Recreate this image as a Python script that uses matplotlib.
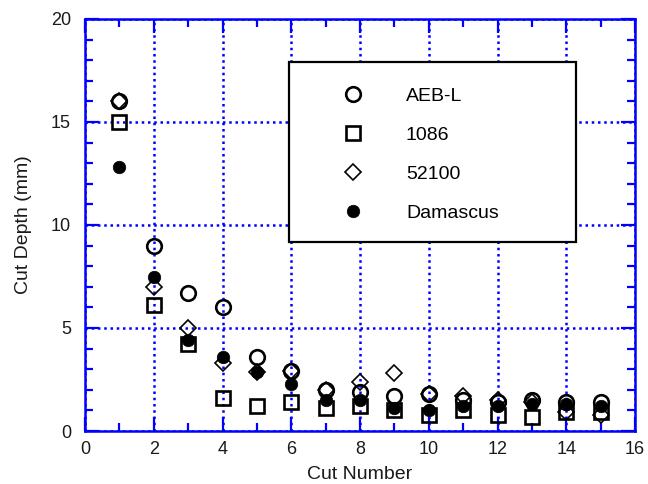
import matplotlib
matplotlib.use("Agg")
import matplotlib.pyplot as plt
from matplotlib.patches import Rectangle
from matplotlib.ticker import MultipleLocator

plt.rcParams['font.family'] = ['Liberation Sans', 'DejaVu Sans']

cuts = [1, 2, 3, 4, 5, 6, 7, 8, 9, 10, 11, 12, 13, 14, 15]
aebl = [16.0, 9.0, 6.7, 6.0, 3.6, 2.9, 2.0, 1.9, 1.7, 1.8, 1.5, 1.4, 1.5, 1.4, 1.4]
s1086 = [15.0, 6.1, 4.2, 1.6, 1.2, 1.4, 1.1, 1.2, 1.0, 0.8, 1.0, 0.8, 0.7, 0.9, 0.9]
s52100 = [16.0, 7.0, 5.0, 3.3, 2.85, 2.9, 2.0, 2.4, 2.8, 1.8, 1.7, 1.5, 1.4, 0.9, 0.8]
damascus = [12.8, 7.5, 4.4, 3.6, 2.85, 2.3, 1.5, 1.5, 1.1, 1.0, 1.2, 1.2, 1.3, 1.3, 1.2]

blue = '#0000ff'

fig = plt.figure(figsize=(6.48, 4.84), dpi=100)
ax = fig.add_axes([85/648, 1 - 431/484, 550/648, 412/484])

ax.set_xlim(0, 16)
ax.set_ylim(0, 20)
ax.xaxis.set_major_locator(MultipleLocator(2))
ax.xaxis.set_minor_locator(MultipleLocator(1))
ax.yaxis.set_major_locator(MultipleLocator(5))
ax.yaxis.set_minor_locator(MultipleLocator(1))

ax.grid(True, which='major', color=blue, linestyle=(0, (1, 1.5)), linewidth=1.8, zorder=0)
ax.set_axisbelow(True)

for sp in ax.spines.values():
    sp.set_color(blue)
    sp.set_linewidth(1.8)

ax.tick_params(which='both', direction='in', top=True, right=True, color=blue,
               width=1.6, labelsize=13, labelcolor='#1a1a1a')
ax.tick_params(which='major', length=10, pad=7)
ax.tick_params(which='minor', length=5.5)
ax.tick_params(axis='y', which='major', pad=10)

h1, = ax.plot(cuts, aebl, linestyle='none', marker='o', ms=10.5, mfc='none',
              mec='black', mew=1.9, label='AEB-L', zorder=3)
h2, = ax.plot(cuts, s1086, linestyle='none', marker='s', ms=10.5, mfc='none',
              mec='black', mew=1.9, label='1086', zorder=3)
h3, = ax.plot(cuts, s52100, linestyle='none', marker='D', ms=7.8, mfc='none',
              mec='black', mew=1.2, label='52100', zorder=3)
h4, = ax.plot(cuts, damascus, linestyle='none', marker='o', ms=9, mfc='black',
              mec='black', mew=0.5, label='Damascus', zorder=4)

ax.set_xlabel('Cut Number', fontsize=14, color='#1a1a1a', labelpad=6)
ax.set_ylabel('Cut Depth (mm)', fontsize=14, color='#1a1a1a', labelpad=14)

# legend box
x0, x1 = (289 - 85) / 550, (576 - 85) / 550
y1, y0 = (431 - 62) / 412, (431 - 242) / 412
rect = Rectangle((x0, y0), x1 - x0, y1 - y0, transform=ax.transAxes,
                 facecolor='white', edgecolor='black', linewidth=1.6, zorder=5)
ax.add_patch(rect)
leg = ax.legend(handles=[h1, h2, h3, h4], loc='center left',
                bbox_to_anchor=((334 - 85) / 550, (431 - 154.5) / 412), frameon=False,
                fontsize=14, labelspacing=1.1, handletextpad=2.2,
                handlelength=1.0, borderpad=0)
leg.set_zorder(6)

fig.savefig('out.png', dpi=100)
